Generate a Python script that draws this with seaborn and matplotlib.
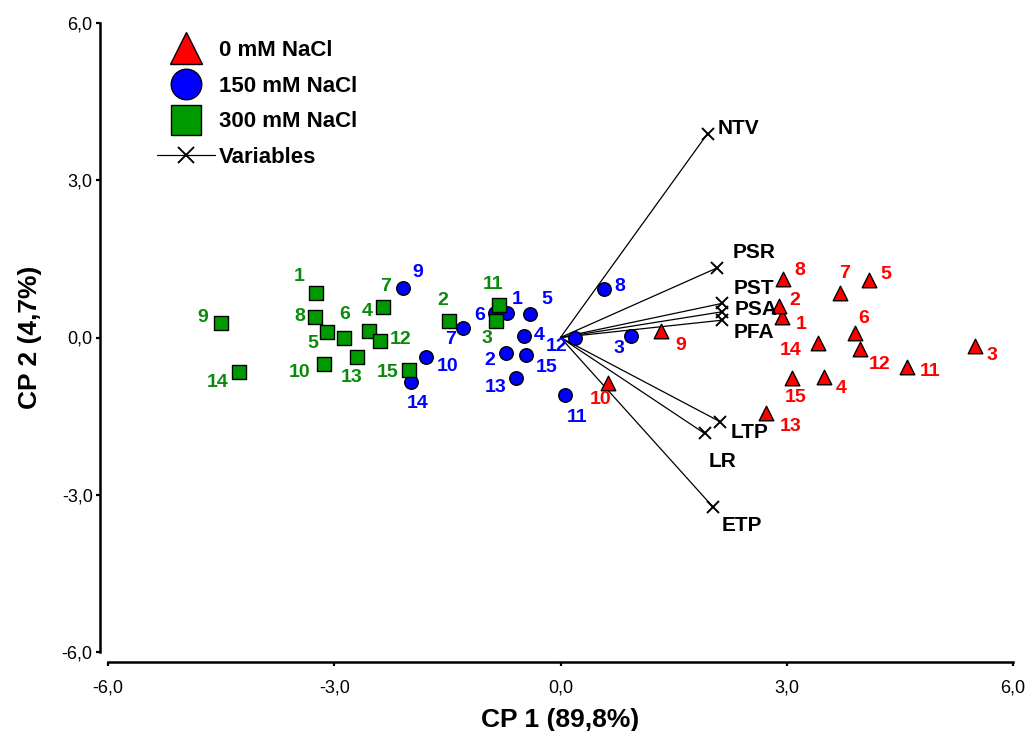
import matplotlib
matplotlib.use("Agg")
import matplotlib.pyplot as plt
from matplotlib.lines import Line2D
import seaborn as sns
import pandas as pd

sns.set_style("ticks")
plt.rcParams['font.family'] = ['Liberation Sans', 'DejaVu Sans']
plt.rcParams['text.color'] = 'black'
plt.rcParams['axes.labelcolor'] = 'black'
plt.rcParams['xtick.color'] = 'black'
plt.rcParams['ytick.color'] = 'black'
plt.rcParams['axes.edgecolor'] = 'black'

# ---------------- data ----------------
ids = list(range(1, 16))

red_x = [2.94, 2.90, 5.50, 3.49, 4.09, 3.90, 3.70, 2.95, 1.33, 0.63, 4.60, 3.97, 2.72, 3.42, 3.07]
red_y = [0.40, 0.61, -0.16, -0.75, 1.10, 0.08, 0.84, 1.12, 0.12, -0.86, -0.56, -0.22, -1.44, -0.11, -0.77]

blue_x = [-0.71, -0.72, 0.93, -0.48, -0.40, -0.87, -1.29, 0.58, -2.09, -1.79, 0.06, 0.19, -0.59, -1.98, -0.46]
blue_y = [0.46, -0.30, 0.02, 0.02, 0.45, 0.46, 0.18, 0.92, 0.95, -0.38, -1.10, 0.00, -0.77, -0.84, -0.33]

green_x = [-3.24, -1.48, -0.85, -2.54, -3.09, -2.87, -2.35, -3.26, -4.50, -3.13, -0.81, -2.39, -2.70, -4.26, -2.01]
green_y = [0.84, 0.32, 0.32, 0.12, 0.10, -0.01, 0.58, 0.39, 0.28, -0.51, 0.62, -0.06, -0.38, -0.65, -0.62]

var_names = ["NTV", "PSR", "PST", "PSA", "PFA", "LTP", "LR", "ETP"]
var_x = [1.95, 2.08, 2.14, 2.14, 2.14, 2.12, 1.91, 2.02]
var_y = [3.89, 1.33, 0.65, 0.49, 0.33, -1.61, -1.83, -3.23]

group_names = ["0 mM NaCl", "150 mM NaCl", "300 mM NaCl"]
tick_vals = [-6, -3, 0, 3, 6]
tick_labels = ["-6,0", "-3,0", "0,0", "3,0", "6,0"]
x_title = "CP 1 (89,8%)"
y_title = "CP 2 (4,7%)"

# ---------------- styling (label offsets in pixels) ----------------
red_off = [(19, 8), (16, -5), (17, 10), (17, 12), (17, -5), (9, -15), (5, -20), (17, -8),
           (20, 14), (-7, 17), (23, 5), (20, 15), (25, 14), (-28, 7), (4, 20)]
blue_off = [(10, -14), (-16, 7), (-12, 12), (15, -1), (16, -14), (-15, 2), (-13, 11), (16, -3),
            (15, -15), (22, 9), (12, 22), (-18, 9), (-20, 10), (6, 22), (21, 13)]
green_off = [(-17, -17), (-6, -20), (-9, 18), (-2, -20), (-15, 11), (1, -24), (2, -21), (-15, -1),
             (-18, -5), (-25, 8), (-6, -21), (20, -1), (-5, 20), (-22, 11), (-21, 3)]
var_off = [(10, -5), (15, -15), (12, -15), (13, -2), (12, 12), (10, 11), (4, 28), (9, 19)]

RED = "#FF0000"
BLUE = "#0000FF"
GREEN = "#009900"
GREEN_TXT = "#0A8A0A"

W, H = 1030, 731
fig = plt.figure(figsize=(W / 100, H / 100), dpi=100)
ax = fig.add_axes([108 / W, 1 - 652 / H, 905 / W, 629 / H])

# variable vectors
for name, vx, vy, off in zip(var_names, var_x, var_y, var_off):
    ax.plot([0, vx], [0, vy], color="black", lw=0.9, zorder=2)
    ax.plot([vx], [vy], marker="x", color="black", ms=9, mew=1.4, ls="none", zorder=2)
    ax.annotate(name, (vx, vy), xytext=(off[0], -off[1]), textcoords="offset pixels",
                ha="left", va="center", fontsize=15, fontweight="bold", color="black", zorder=5)

groups = [
    (red_x, red_y, RED, "^", 110, red_off, RED),
    (blue_x, blue_y, BLUE, "o", 95, blue_off, BLUE),
    (green_x, green_y, GREEN, "s", 95, green_off, GREEN_TXT),
]
for gx, gy, col, mk, sz, offs, tcol in groups:
    df = pd.DataFrame({"x": gx, "y": gy})
    sns.scatterplot(data=df, x="x", y="y", ax=ax, color=col, marker=mk, s=sz,
                    edgecolor="black", linewidth=1.0, zorder=3, legend=False)
    for i, px, py, off in zip(ids, gx, gy, offs):
        ax.annotate(str(i), (px, py), xytext=(off[0], -off[1]), textcoords="offset pixels",
                    ha="center", va="center", fontsize=14, fontweight="bold", color=tcol, zorder=5)

ax.set_xlim(-6, 6)
ax.set_ylim(-6, 6)
ax.set_xticks(tick_vals)
ax.set_xticklabels(tick_labels)
ax.set_yticks(tick_vals)
ax.set_yticklabels(tick_labels)

ax.set_xlabel(x_title, fontsize=19, fontweight="bold", labelpad=8)
ax.set_ylabel(y_title, fontsize=19, fontweight="bold", labelpad=14)

sns.despine(ax=ax)
ax.spines["left"].set_position(("outward", 6))
ax.spines["bottom"].set_position(("outward", 7))
for s in ["left", "bottom"]:
    ax.spines[s].set_linewidth(1.8)
    ax.spines[s].set_color("black")
ax.tick_params(axis="both", direction="out", length=3, width=1.6, pad=2, colors="black",
               labelsize=13, labelfontfamily=["Liberation Sans Narrow", "Liberation Sans", "DejaVu Sans"])
ax.tick_params(axis="x", pad=10)

handles = [
    Line2D([], [], ls="none", marker="^", ms=23, mfc=RED, mec="black", mew=1.0),
    Line2D([], [], ls="none", marker="o", ms=22, mfc=BLUE, mec="black", mew=1.0),
    Line2D([], [], ls="none", marker="s", ms=21, mfc=GREEN, mec="black", mew=1.0),
    Line2D([], [], ls="-", color="black", lw=0.9, marker="x", ms=12, mew=1.4),
]
leg = ax.legend(handles, group_names + ["Variables"], loc="center left",
                bbox_to_anchor=(157 / W, 1 - 104 / H), bbox_transform=fig.transFigure,
                frameon=False, prop={"weight": "bold", "size": 16}, handlelength=2.6,
                handletextpad=0.2, labelspacing=0.66, borderpad=0, borderaxespad=0)
for t in leg.get_texts():
    t.set_color("black")

fig.savefig("out.png", dpi=100)
